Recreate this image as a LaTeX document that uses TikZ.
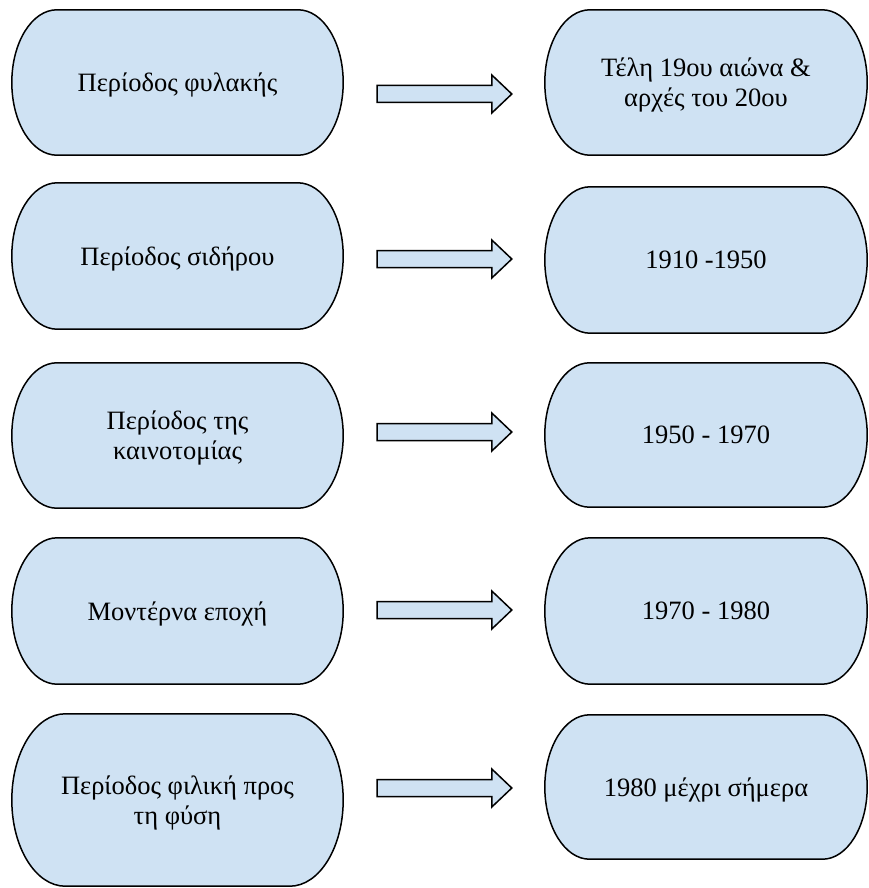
\documentclass[tikz,border=0pt]{standalone}
\usepackage{fontspec}
\setmainfont{Liberation Serif}
\usetikzlibrary{calc,backgrounds}
\definecolor{stagefill}{RGB}{207,226,243}
\tikzset{
  stage/.style={inner sep=0pt, align=center, text depth=0pt, font=\fontsize{26.5}{30}\selectfont},
  leftstage/.style={stage, minimum width=331pt},
  rightstage/.style={stage, minimum width=322pt},
  stageline/.style={fill=stagefill, draw=black, line width=1.5pt},
  arrowbox/.style={fill=stagefill, draw=black, line width=1.5pt, line join=miter}
}
% block arrow: from node, to node, shift down
\newcommand{\blockarrow}[3]{%
  \filldraw[arrowbox] let \p1=($(#1.east |- #2.west)+(34,#3)$), \p2=($(#2.west)+(-33,#3)$) in
    (\x1,\y1+8.5) -- (\x2-20,\y1+8.5) -- (\x2-20,\y1+19) -- (\x2,\y1)
    -- (\x2-20,\y1-19) -- (\x2-20,\y1-8.5) -- (\x1,\y1-8.5) -- cycle;}

\begin{document}
\begin{tikzpicture}[x=1pt,y=-1pt]
  \useasboundingbox (0,0) rectangle (868,888);

  % periods
  \node[leftstage, minimum height=145pt] (l1) at (177.5,82.5) {Περίοδος φυλακής};
  \node[leftstage, minimum height=146pt] (l2) at (177.5,256) {Περίοδος σιδήρου};
  \node[leftstage, minimum height=145pt] (l3) at (177.5,435.5) {Περίοδος της\\καινοτομίας};
  \node[leftstage, minimum height=146pt] (l4) at (177.5,611) {Μοντέρνα εποχή};
  \node[leftstage, minimum height=172pt] (l5) at (177.5,800) {Περίοδος φιλική προς\\τη φύση};

  % dates
  \node[rightstage, minimum height=145pt] (r1) at (706,82.5) {Τέλη 19ου αιώνα \&\\αρχές του 20ου};
  \node[rightstage, minimum height=146pt] (r2) at (706,260) {1910 -1950};
  \node[rightstage, minimum height=144pt] (r3) at (706,435) {1950 - 1970};
  \node[rightstage, minimum height=146pt] (r4) at (706,611) {1970 - 1980};
  \node[rightstage, minimum height=144pt] (r5) at (706,787) {1980 μέχρι σήμερα};

  \begin{pgfonlayer}{background}
    \foreach \stg in {l1,l2,l3,l4,l5,r1,r2,r3,r4,r5}
      \filldraw[stageline] let \p1=(\stg.north west), \p2=(\stg.south east) in
        (\x1+0.31*\y1-0.31*\y2,\y1) -- (\x2-0.31*\y1+0.31*\y2,\y1)
        arc[start angle=90, end angle=-90, x radius={0.31*(\y1-\y2)}, y radius={(\y1-\y2)/2}]
        -- (\x1+0.31*\y1-0.31*\y2,\y2)
        arc[start angle=270, end angle=90, x radius={0.31*(\y1-\y2)}, y radius={(\y1-\y2)/2}]
        -- cycle;
  \end{pgfonlayer}

  \blockarrow{l1}{r1}{11.5}
  \blockarrow{l2}{r2}{-1}
  \blockarrow{l3}{r3}{-3}
  \blockarrow{l4}{r4}{-1}
  \blockarrow{l5}{r5}{1}
\end{tikzpicture}
\end{document}
